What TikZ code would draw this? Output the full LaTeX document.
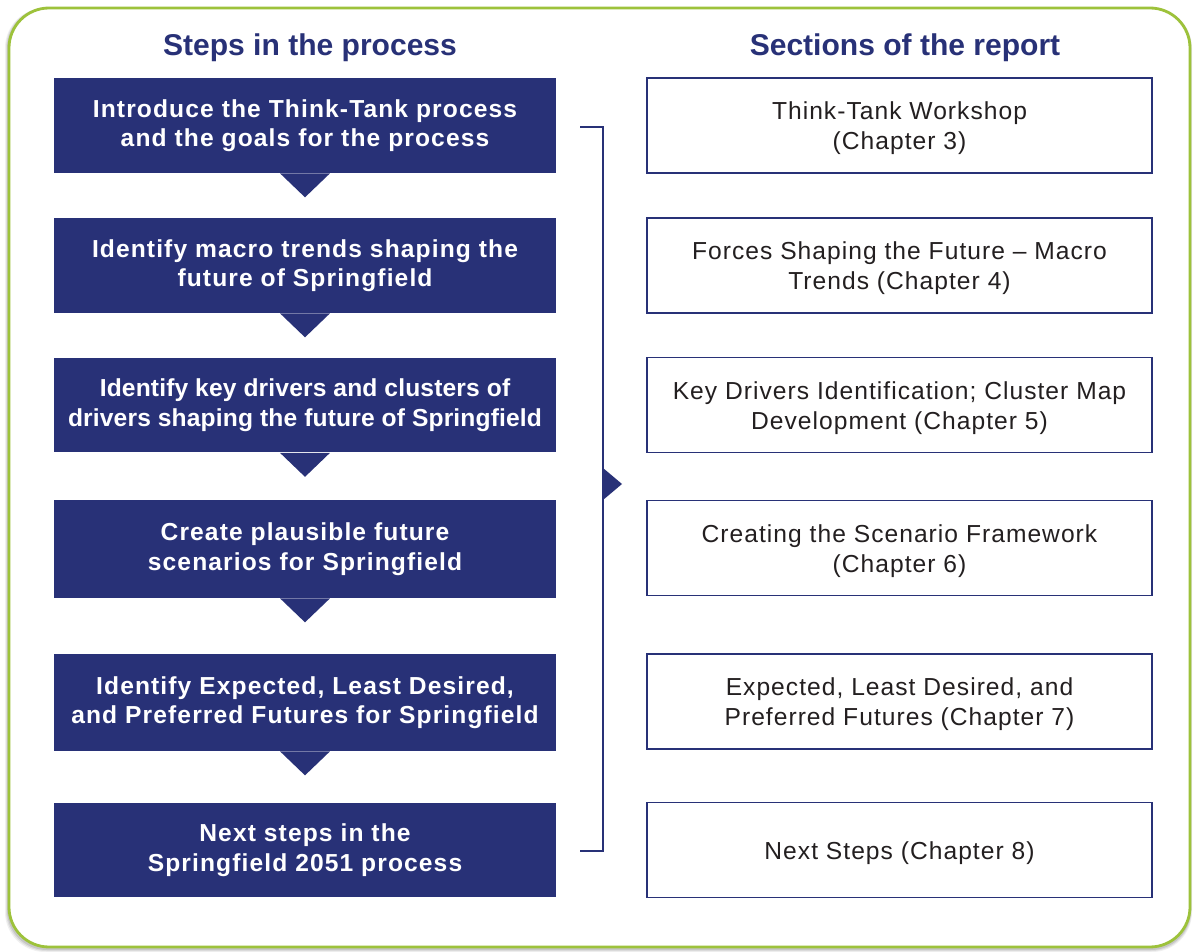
\documentclass[tikz,border=0pt]{standalone}
\usepackage{fontspec}
\setmainfont{Liberation Sans}
\newfontfamily\stepfont{Liberation Sans}[LetterSpace=4.5]
\newfontfamily\steptight{Liberation Sans}[LetterSpace=0.6]
\newfontfamily\secfont{Liberation Sans}[LetterSpace=4.2]
\definecolor{navy}{HTML}{283177}
\definecolor{leaf}{HTML}{9DC23B}
\definecolor{ink}{HTML}{231F20}
\tikzset{
  stepbox/.style={fill=navy, draw=none, minimum width=10.04cm, minimum height=1.9cm,
    text=white, align=center, font=\stepfont\bfseries\fontsize{14}{16.8}\selectfont, inner sep=0pt},
  secbox/.style={fill=white, draw=navy, line width=0.8pt, minimum width=10.1cm, minimum height=1.9cm,
    inner sep=0pt},
  sectext/.style={text=ink, align=center, font=\secfont\fontsize{14}{17}\selectfont, inner sep=0pt, yshift=-0.06cm},
  header/.style={text=navy, font=\bfseries\fontsize{17.1}{20}\selectfont, inner sep=0pt},
  pointer/.style={fill=navy, draw=none},
  bracket/.style={draw=navy, line width=1.1pt}
}
\begin{document}
\begin{tikzpicture}[x=0.02cm,y=-0.02cm]
\useasboundingbox (0,0) rectangle (1197,952);
% shadow
\foreach \o/\a in {4/0.06,3/0.08,2/0.1}{
  \fill[black,opacity=\a,rounded corners=0.8cm] (9-\o,8) rectangle (1190+\o*0.5,948+\o);
}
\draw[leaf, line width=1.6pt, fill=white, rounded corners=0.8cm] (9,8) rectangle (1190,947);
% headers
\node[header] (h1) at (310,48) {Steps in the process};
\node[header] (h2) at (905,48) {Sections of the report};
% step boxes
\node[stepbox] (s1) at (305,125.5) {Introduce the Think-Tank process\\and the goals for the process};
\node[stepbox] (s2) at (305,265.5) {Identify macro trends shaping the\\future of Springfield};
\node[stepbox, font=\steptight\bfseries\fontsize{14}{16.8}\selectfont] (s3) at (305,405) {Identify key drivers and clusters of\\drivers shaping the future of Springfield};
\node[stepbox, minimum height=1.96cm] (s4) at (305,549) {Create plausible future\\scenarios for Springfield};
\node[stepbox, minimum height=1.94cm] (s5) at (305,702.5) {Identify Expected, Least Desired,\\and Preferred Futures for Springfield};
\node[stepbox] (s6) at (305,850) {Next steps in the\\Springfield 2051 process};
% pointers
\foreach \s in {s1,s2,s3,s4,s5}{
  \fill[pointer] ([xshift=-0.5cm]\s.south) -- ([yshift=-0.48cm]\s.south) -- ([xshift=0.5cm]\s.south) -- cycle;
}
% section boxes
\node[secbox, label={[sectext]center:Think-Tank Workshop\\(Chapter 3)}] (r1) at (899.5,125.5) {};
\node[secbox, label={[sectext]center:Forces Shaping the Future – Macro\\Trends (Chapter 4)}] (r2) at (899.5,265.5) {};
\node[secbox, label={[sectext]center:Key Drivers Identification; Cluster Map\\Development (Chapter 5)}] (r3) at (899.5,405) {};
\node[secbox, label={[sectext]center:Creating the Scenario Framework\\(Chapter 6)}] (r4) at (899.5,548) {};
\node[secbox, label={[sectext]center:Expected, Least Desired, and\\Preferred Futures (Chapter 7)}] (r5) at (899.5,701.5) {};
\node[secbox, label={[sectext]center:Next Steps (Chapter 8)}] (r6) at (899.5,850) {};
% bracket
\coordinate (bt) at (580,127);
\coordinate (bb) at (580,851);
\coordinate (bx) at (603,484);
\draw[bracket] (bt) -- (bt -| bx) -- (bb -| bx) -- (bb);
\fill[pointer] ([yshift=0.32cm]bx) -- ([xshift=0.38cm]bx) -- ([yshift=-0.32cm]bx) -- cycle;
\end{tikzpicture}
\end{document}
